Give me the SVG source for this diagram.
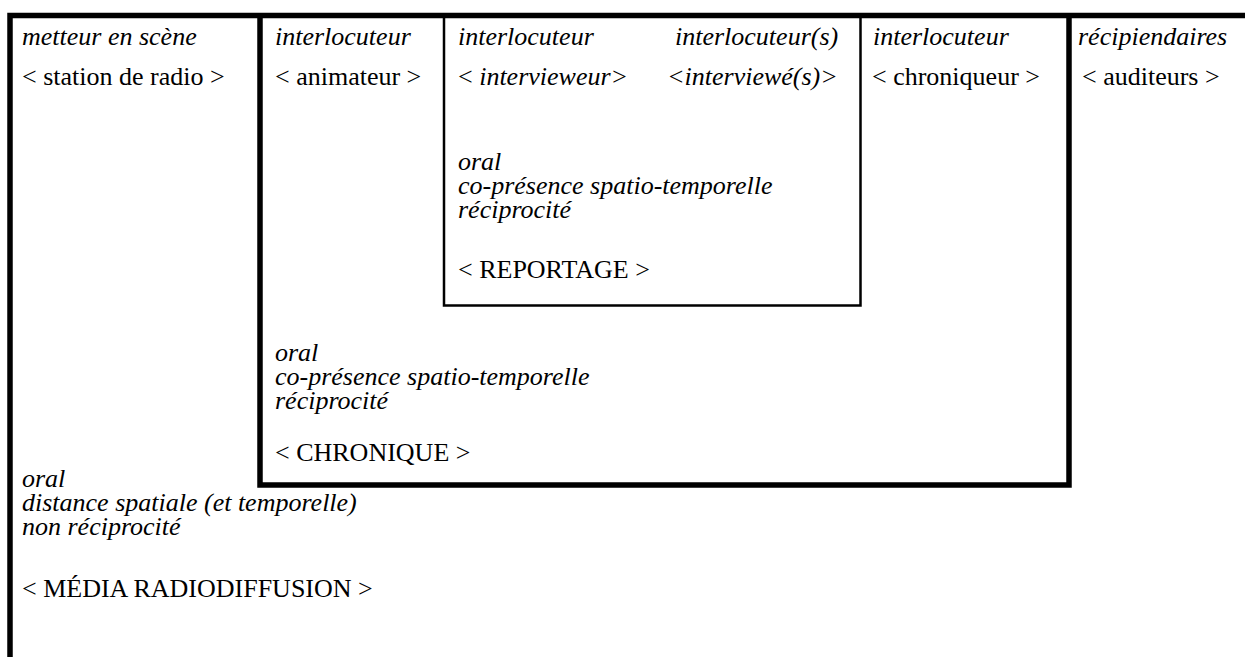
<svg xmlns="http://www.w3.org/2000/svg" width="1245" height="657" viewBox="0 0 1245 657">
<style>
  text { font-family: "Liberation Serif", "Times New Roman", serif; font-size: 26px; fill: #000; }
  .i { font-style: italic; }
  .thick { fill: none; stroke: #000; stroke-width: 5.5; }
  .thin { fill: none; stroke: #000; stroke-width: 2.5; }
</style>
<rect width="1245" height="657" fill="#fff"/>
<g id="media">
  <path class="thick" d="M1245 15.5 H10 V657"/>
  <text class="i" x="22" y="45">metteur en scène</text>
  <text x="22" y="85">&lt; station de radio &gt;</text>
  <text class="i" x="22" y="487">oral</text>
  <text class="i" x="22" y="511">distance spatiale (et temporelle)</text>
  <text class="i" x="22" y="535">non réciprocité</text>
  <text x="22" y="597">&lt; MÉDIA RADIODIFFUSION &gt;</text>
</g>
<g id="chronique">
  <path class="thick" d="M260 15.5 V485 H1069 V15.5"/>
  <text class="i" x="275" y="45">interlocuteur</text>
  <text x="275" y="85">&lt; animateur &gt;</text>
  <text class="i" x="873" y="45">interlocuteur</text>
  <text x="872" y="85">&lt; chroniqueur &gt;</text>
  <text class="i" x="275" y="361">oral</text>
  <text class="i" x="275" y="385">co-présence spatio-temporelle</text>
  <text class="i" x="275" y="409">réciprocité</text>
  <text x="275" y="461">&lt; CHRONIQUE &gt;</text>
</g>
<g id="reportage">
  <path class="thin" d="M444 17 V305.5 H860.5 V17"/>
  <text class="i" x="458" y="45">interlocuteur</text>
  <text x="458" y="85">&lt; <tspan class="i">intervieweur&gt;</tspan></text>
  <text class="i" x="675" y="45">interlocuteur(s)</text>
  <text class="i" x="667" y="85">&lt;interviewé(s)&gt;</text>
  <text class="i" x="458" y="170">oral</text>
  <text class="i" x="458" y="194">co-présence spatio-temporelle</text>
  <text class="i" x="458" y="218">réciprocité</text>
  <text x="458" y="278">&lt; REPORTAGE &gt;</text>
</g>
<g id="auditeurs">
  <text class="i" x="1078" y="45">récipiendaires</text>
  <text x="1082" y="85">&lt; auditeurs &gt;</text>
</g>
<g id="connectors"></g>
</svg>
